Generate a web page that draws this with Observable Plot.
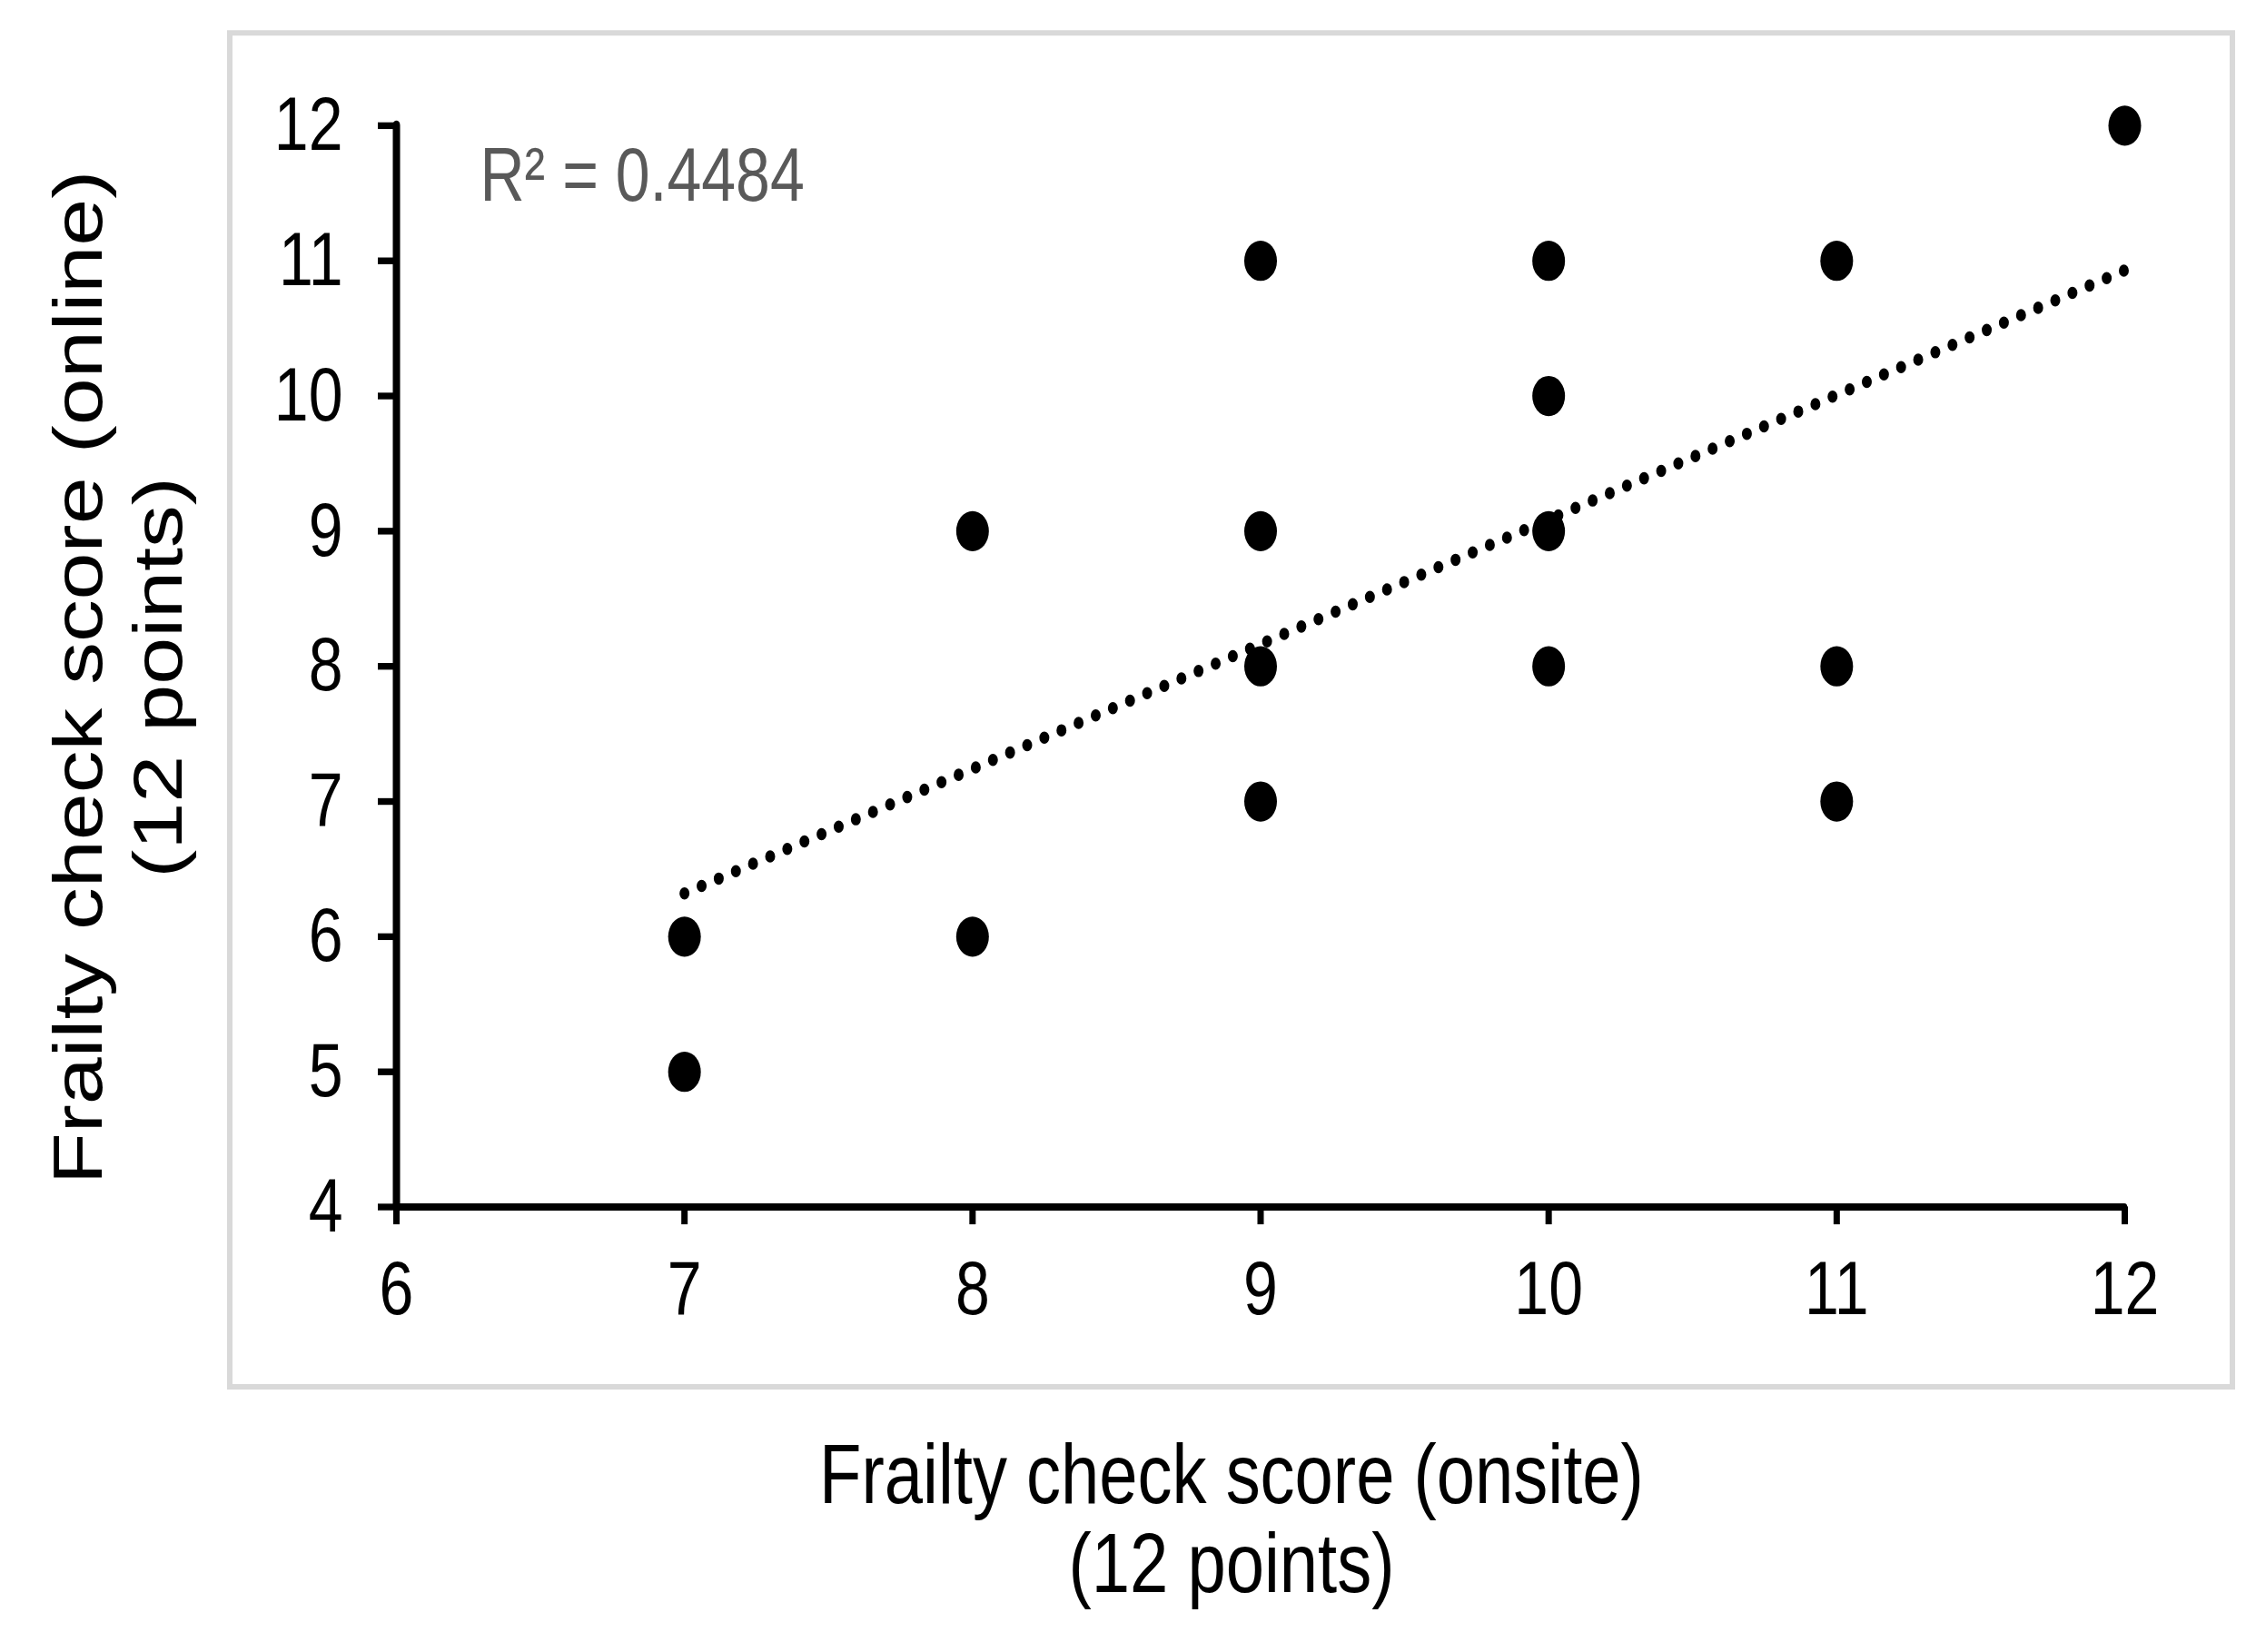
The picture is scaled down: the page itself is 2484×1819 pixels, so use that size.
<!DOCTYPE html>
<html><head><meta charset="utf-8">
<script src="https://cdn.jsdelivr.net/npm/d3@7"></script>
<script src="https://cdn.jsdelivr.net/npm/@observablehq/plot@0.6"></script>
<style>
html,body{margin:0;padding:0;background:#fff;}
#outer{position:relative;width:2484px;height:1819px;overflow:hidden;}
#stage{position:absolute;left:0;top:0;width:2484px;height:1479px;transform:scale(1,1.23);transform-origin:0 0;font-family:"Liberation Sans",Arial,sans-serif;}
#frame{position:absolute;left:250px;top:27px;width:2211px;height:1217px;box-sizing:border-box;border:solid #d9d9d9;border-width:5px 6px;}
#chart{position:absolute;left:0;top:0;}
</style></head><body>
<div id="outer"><div id="stage"><div id="frame"></div><div id="chart"></div></div></div>
<script>
// Data
const onsite = [7, 7, 8, 8, 9, 9, 9, 9, 10, 10, 10, 10, 11, 11, 11, 12];
const online = [6, 5, 9, 6, 11, 9, 8, 7, 11, 10, 9, 8, 11, 8, 7, 12];
const trendX = [7, 12];
const trendY = [6.32, 10.93];
const xTicks = [6, 7, 8, 9, 10, 11, 12];
const yTicks = [4, 5, 6, 7, 8, 9, 10, 11, 12];
const xTitle = ["Frailty check score (onsite)", "(12 points)"];
const yTitle = ["Frailty check score (online)", "(12 points)"];
const r2Label = "R\u00b2 = 0.4484";

const points = onsite.map((x, i) => ({x, y: online[i]}));
const trend = trendX.map((x, i) => ({x, y: trendY[i]}));
const font = "'Liberation Sans', Arial, sans-serif";
const fmt = d => String(d);

const chart = Plot.plot({
  width: 2484,
  height: 1479,
  marginLeft: 436,
  marginRight: 145,
  marginTop: 112,
  marginBottom: 399,
  x: {domain: [6, 12]},
  y: {domain: [4, 12]},
  style: {fontFamily: font, color: "black", background: "transparent", overflow: "visible"},
  marks: [
    Plot.line(trend, {x: "x", y: "y", stroke: "black", strokeWidth: 11, strokeDasharray: "0,20", strokeLinecap: "round"}),
    Plot.dot(points, {x: "x", y: "y", r: 18, fill: "black"}),
    Plot.ruleY([4], {x1: 6, x2: 12, stroke: "black", strokeWidth: 6.5, strokeLinecap: "round"}),
    Plot.ruleX([6], {y1: 4, y2: 12, stroke: "black", strokeWidth: 8, strokeLinecap: "round"}),
    Plot.axisX(xTicks, {tickSize: 16, tickPadding: 32, tickFormat: fmt, fontSize: 68, strokeWidth: 7, label: null, fill: "black"}),
    Plot.axisY(yTicks, {tickSize: 20, tickPadding: 39, tickFormat: fmt, fontSize: 68, strokeWidth: 6, label: null, fill: "black"}),
    Plot.text([r2Label], {text: d => d, frameAnchor: "top-left", textAnchor: "start", lineAnchor: "top", dx: 92, dy: 19, fontSize: 68, fill: "#595959"}),
    Plot.text([xTitle[0]], {text: d => d, frameAnchor: "bottom", textAnchor: "middle", lineAnchor: "top", dx: -32, dy: 211, fontSize: 76, fill: "black"}),
    Plot.text([xTitle[1]], {text: d => d, frameAnchor: "bottom", textAnchor: "middle", lineAnchor: "top", dx: -32, dy: 291, fontSize: 76, fill: "black"}),
    Plot.text([yTitle[0]], {text: d => d, frameAnchor: "left", textAnchor: "middle", lineAnchor: "top", rotate: -90, dx: -378, dy: 10, fontSize: 76, fill: "black"}),
    Plot.text([yTitle[1]], {text: d => d, frameAnchor: "left", textAnchor: "middle", lineAnchor: "top", rotate: -90, dx: -290, dy: 10, fontSize: 76, fill: "black"})
  ]
});
document.getElementById("chart").appendChild(chart);
</script>
</body></html>
